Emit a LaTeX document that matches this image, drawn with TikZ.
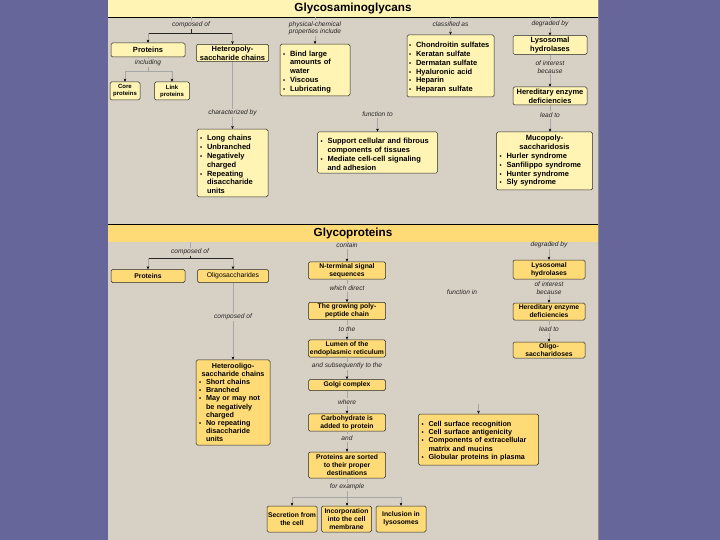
\documentclass[tikz,border=0pt]{standalone}
\usepackage{fontspec}
\setmainfont{Liberation Sans}
\usetikzlibrary{arrows.meta}
\definecolor{pagebg}{HTML}{D7D0C4}
\definecolor{slide}{HTML}{67669A}
\definecolor{paleyel}{HTML}{FFF4B3}
\definecolor{deepyel}{HTML}{FFDB78}
\newcommand\itm[1]{\par\hangindent=7pt\hangafter=1\noindent\hbox to 7pt{{\fontsize{6}{6}\selectfont\textbullet}\hss}#1\par}

\begin{document}
\begin{tikzpicture}[x=1pt,y=-1pt,
 box/.style={draw=black!85,line width=.5pt,rounded corners=1.5pt,inner sep=1.5pt,align=center},
 gagbox/.style={box,fill=paleyel,font=\bfseries\fontsize{7.5}{8.8}\selectfont},
 gpbox/.style={box,fill=deepyel,font=\bfseries\fontsize{6.8}{8}\selectfont},
 lbl/.style={font=\itshape\fontsize{6.6}{7.4}\selectfont,text=black!85,inner sep=1pt,align=center},
 wire/.style={draw=black!35,line width=.3pt},
 brace/.style={draw=black!85,line width=.5pt},
 arr/.style={wire,-{Stealth[length=3pt,width=2.6pt,black]}},
 band/.style={minimum width=490pt,minimum height=17pt,inner sep=0pt,font=\bfseries\fontsize{11.7}{12}\selectfont}]
\useasboundingbox (0,0) rectangle (720,540);
\fill[slide] (0,0) rectangle (720,540);
\fill[pagebg] (108,0) rectangle (598,540);
\draw[black!45,line width=.8pt] (598.4,0) -- (598.4,540);

% Glycosaminoglycans
\node[band,fill=paleyel] (gag) at (353,8.5) {Glycosaminoglycans};
\draw[black,line width=.6pt] (gag.south west) -- (gag.south east);

\node[lbl] (lcomp) at (191,25) {composed of};
\node[gagbox,minimum width=74pt,minimum height=14pt] (prot) at (148,50) {Proteins};
\node[gagbox,minimum width=72pt,minimum height=17pt] (hetpoly) at (232.5,53) {Heteropoly-\\saccharide chains};
\node[lbl] (lincl) at (148,63) {including};
\node[gagbox,font=\bfseries\fontsize{6}{7}\selectfont,minimum width=30pt,minimum height=18pt,inner sep=.5pt] (core) at (125,91) {Core\\proteins};
\node[gagbox,font=\bfseries\fontsize{6}{7}\selectfont,minimum width=35pt,minimum height=18pt,inner sep=.5pt] (link) at (172,91) {Link\\proteins};
\node[lbl] (lphys) at (315,28) {physical-chemical\\properties include};
\node[gagbox,align=left,text width=64pt,minimum height=50pt,inner sep=3pt] (phys) at (315,70) {\itm{Bind large\newline amounts of\newline water}\itm{Viscous}\itm{Lubricating}};
\node[lbl] (lclass) at (450.5,24) {classified as};
\node[gagbox,align=left,text width=83pt,minimum height=62pt,inner sep=2pt] (chond) at (450.5,66) {\itm{Chondroitin sulfates}\itm{Keratan sulfate}\itm{Dermatan sulfate}\itm{Hyaluronic acid}\itm{Heparin}\itm{Heparan sulfate}};
\node[lbl] (ldeg) at (550,24) {degraded by};
\node[gagbox,minimum width=74pt,minimum height=18pt] (lyso) at (550,45) {Lysosomal\\hydrolases};
\node[lbl] (lint) at (550,67) {of interest\\because};
\node[gagbox,minimum width=74pt,minimum height=18pt] (hered) at (550,96) {Hereditary enzyme\\deficiencies};
\node[lbl] (llead) at (550,115) {lead to};
\node[gagbox,align=left,text width=90pt,minimum height=58pt,inner sep=3pt] (muco) at (544.5,161) {{\centering Mucopoly-\\saccharidosis\par}\itm{Hurler syndrome}\itm{Sanfilippo syndrome}\itm{Hunter syndrome}\itm{Sly syndrome}};
\node[lbl] (lfunc) at (377.5,114) {function to};
\node[gagbox,align=left,text width=114pt,minimum height=41pt,inner sep=3pt] (supp) at (377.5,152.5) {\itm{Support cellular and fibrous\newline components of tissues}\itm{Mediate cell-cell signaling\newline and adhesion}};
\node[lbl] (lchar) at (232.5,113) {characterized by};
\node[gagbox,align=left,text width=65pt,minimum height=62pt,inner sep=3pt] (chains) at (232.5,163) {\itm{Long chains}\itm{Unbranched}\itm{Negatively\newline charged}\itm{Repeating\newline disaccharide\newline units}};

\coordinate (cpL) at (148,33);
\coordinate (cpR) at (232.5,33);
\coordinate (inL) at (125,71);
\coordinate (inR) at (172,71);
\draw[wire] (gag.south -| lcomp) -- (lcomp);
\draw[brace] (lcomp) -- (lcomp |- cpL);
\draw[brace] (cpL) -- (cpR);
\draw[arr] (cpL) -- (prot);
\draw[arr] (cpR) -- (hetpoly);
\draw[wire] (prot) -- (lincl);
\draw[wire] (lincl) -- (lincl |- inL);
\draw[wire] (inL) -- (inR);
\draw[arr] (inL) -- (core);
\draw[arr] (inR) -- (link);
\draw[wire] (gag.south -| lphys) -- (lphys);
\draw[arr] (lphys) -- (phys);
\draw[wire] (gag.south -| lclass) -- (lclass);
\draw[arr] (lclass) -- (chond);
\draw[wire] (gag.south -| ldeg) -- (ldeg);
\draw[arr] (ldeg) -- (lyso);
\draw[wire] (lyso) -- (lint);
\draw[arr] (lint) -- (hered);
\draw[wire] (hered) -- (llead);
\draw[arr] (llead) -- (llead |- muco.north);
\draw[arr] (lfunc) -- (supp);
\draw[wire] (hetpoly) -- (lchar);
\draw[arr] (lchar) -- (chains);

% Glycoproteins
\node[band,fill=deepyel] (gp) at (353,233.5) {Glycoproteins};
\draw[black,line width=.6pt] (gp.north west) -- (gp.north east);

\node[lbl] (lcomp2) at (190,252) {composed of};
\node[gpbox,minimum width=74pt,minimum height=13pt] (prot2) at (148,276) {Proteins};
\node[gpbox,font=\fontsize{6.8}{8}\selectfont,minimum width=71pt,minimum height=13pt] (oligo) at (233,276) {Oligosaccharides};
\node[lbl] (lcomp3) at (233,317) {composed of};
\node[gpbox,font=\bfseries\fontsize{7.2}{8.2}\selectfont,align=left,text width=68pt,minimum height=85pt,inner sep=3pt] (hetol) at (233,402.5) {{\centering Heterooligo-\\saccharide chains\par}\itm{Short chains}\itm{Branched}\itm{May or may not\newline be negatively\newline charged}\itm{No repeating\newline disaccharide\newline units}};

\node[lbl] (lcont) at (347,245) {contain};
\node[gpbox,minimum width=77pt,minimum height=17pt] (nterm) at (347,270.5) {N-terminal signal\\sequences};
\node[lbl] (ldir) at (347,288) {which direct};
\node[gpbox,minimum width=77pt,minimum height=16pt] (grow) at (347,311) {The growing poly-\\peptide chain};
\node[lbl] (lto) at (347,329) {to the};
\node[gpbox,minimum width=77pt,minimum height=17pt] (lumen) at (347,348.5) {Lumen of the\\endoplasmic reticulum};
\node[lbl] (lsub) at (347,366) {and subsequently to the};
\node[gpbox,minimum width=77pt,minimum height=11pt] (golgi) at (347,385) {Golgi complex};
\node[lbl] (lwhere) at (347,402) {where};
\node[gpbox,minimum width=77pt,minimum height=17pt] (carb) at (347,422.5) {Carbohydrate is\\added to protein};
\node[lbl] (land) at (347,438) {and};
\node[gpbox,minimum width=77pt,minimum height=26pt] (sorted) at (347,465) {Proteins are sorted\\to their proper\\destinations};
\node[lbl] (lex) at (347,487) {for example};
\node[gpbox,minimum width=50pt,minimum height=26pt,inner sep=.5pt] (secr) at (292,519) {Secretion from\\the cell};
\node[gpbox,minimum width=50pt,minimum height=26pt,inner sep=.5pt] (incorp) at (346.5,519) {Incorporation\\into the cell\\membrane};
\node[gpbox,minimum width=50pt,minimum height=26pt,inner sep=.5pt] (incl) at (401,519) {Inclusion in\\lysosomes};

\node[lbl] (ldeg2) at (549,245) {degraded by};
\node[gpbox,minimum width=72pt,minimum height=19pt] (lyso2) at (549,269.5) {Lysosomal\\hydrolases};
\node[lbl] (lint2) at (549,288) {of interest\\because};
\node[gpbox,minimum width=72pt,minimum height=17pt] (hered2) at (549,311.5) {Hereditary enzyme\\deficiencies};
\node[lbl] (llead2) at (549,329) {lead to};
\node[gpbox,minimum width=72pt,minimum height=16pt] (oligo2) at (549,350) {Oligo-\\saccharidoses};

\node[lbl] (lfin) at (462,292) {function in};
\node[gpbox,font=\bfseries\fontsize{7.2}{8.2}\selectfont,align=left,text width=114pt,minimum height=51pt,inner sep=3pt] (cell) at (478.5,439.5) {\itm{Cell surface recognition}\itm{Cell surface antigenicity}\itm{Components of extracellular\newline matrix and mucins}\itm{Globular proteins in plasma}};

\coordinate (gbL) at (148,258);
\coordinate (gbR) at (233,258);
\coordinate (exL) at (292,497);
\coordinate (exR) at (401,497);
\coordinate (finA) at (478.5,404);
\draw[wire] (gp.south -| lcomp2) -- (lcomp2);
\draw[brace] (lcomp2) -- (lcomp2 |- gbL);
\draw[brace] (gbL) -- (gbR);
\draw[arr] (gbL) -- (prot2);
\draw[arr] (gbR) -- (oligo);
\draw[wire] (oligo) -- (lcomp3);
\draw[arr] (lcomp3) -- (hetol);
\draw[wire] (gp.south -| lcont) -- (lcont);
\draw[arr] (lcont) -- (nterm);
\draw[wire] (nterm) -- (ldir);
\draw[arr] (ldir) -- (grow);
\draw[wire] (grow) -- (lto);
\draw[arr] (lto) -- (lumen);
\draw[wire] (lumen) -- (lsub);
\draw[arr] (lsub) -- (golgi);
\draw[wire] (golgi) -- (lwhere);
\draw[arr] (lwhere) -- (carb);
\draw[wire] (carb) -- (land);
\draw[arr] (land) -- (sorted);
\draw[wire] (sorted) -- (lex);
\draw[wire] (lex) -- (lex |- exL);
\draw[wire] (exL) -- (exR);
\draw[arr] (exL) -- (secr);
\draw[arr] (lex |- exL) -- (incorp.north -| lex);
\draw[arr] (exR) -- (incl);
\draw[wire] (gp.south -| ldeg2) -- (ldeg2);
\draw[arr] (ldeg2) -- (lyso2);
\draw[wire] (lyso2) -- (lint2);
\draw[arr] (lint2) -- (hered2);
\draw[wire] (hered2) -- (llead2);
\draw[arr] (llead2) -- (oligo2);
\draw[arr] (finA) -- (cell);
\end{tikzpicture}
\end{document}
